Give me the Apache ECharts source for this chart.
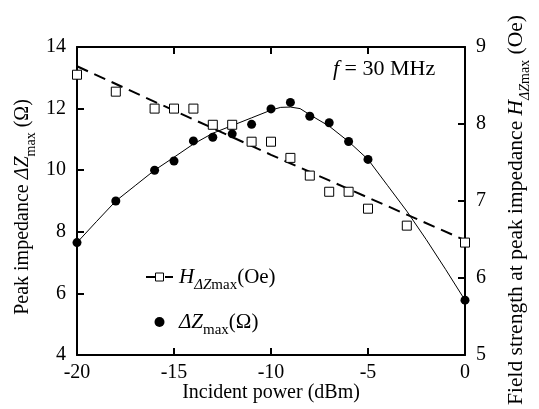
<!DOCTYPE html>
<html>
<head>
<meta charset="utf-8">
<script src="https://cdn.jsdelivr.net/npm/echarts@6/dist/echarts.min.js"></script>
<style>html,body{margin:0;padding:0;background:#fff;}#c{width:539px;height:409px;}</style>
</head>
<body>
<div id="c"></div>
<script>
// Measured peak impedance ΔZmax (Ω) vs incident power (dBm)
const zPower = [-20, -18, -16, -15, -14, -13, -12, -11, -10, -9, -8, -7, -6, -5, 0];
const zValues = [7.65, 9.0, 10.0, 10.3, 10.95, 11.07, 11.18, 11.49, 11.99, 12.2, 11.75, 11.54, 10.93, 10.35, 5.78];
// Fitted curve for ΔZmax
const zFitPower = [-20, -19, -18, -17, -16, -15, -14, -13, -12, -11, -10, -9.5, -9, -8.5, -8, -7, -6, -5, -4, -3, -2, -1, 0];
const zFitValues = [7.65, 8.33, 9.0, 9.5, 10.0, 10.42, 10.85, 11.2, 11.45, 11.7, 11.95, 12.04, 12.05, 12.0, 11.8, 11.43, 10.93, 10.35, 9.51, 8.67, 7.75, 6.78, 5.78];
// Measured field strength H at peak impedance (Oe)
const hPower = [-20, -18, -16, -15, -14, -13, -12, -11, -10, -9, -8, -7, -6, -5, -3, 0];
const hValues = [8.64, 8.42, 8.2, 8.2, 8.2, 7.99, 7.99, 7.77, 7.77, 7.56, 7.33, 7.12, 7.12, 6.9, 6.68, 6.46];
// Fitted line for H
const hFitPower = [-20, -10, 0];
const hFitValues = [8.75, 7.6, 6.49];
// Axis ticks
const xTicks = [-20, -15, -10, -5, 0];
const yLeftTicks = [4, 6, 8, 10, 12, 14];
const yRightTicks = [5, 6, 7, 8, 9];

const FONT = 'Liberation Serif';
const zip = (a, b) => a.map((v, i) => [v, b[i]]);
function makeRich(main, sub, pad) {
  return {
    i: {fontFamily: FONT, fontSize: main, fontStyle: 'italic', lineHeight: main, color: '#000'},
    n: {fontFamily: FONT, fontSize: main, lineHeight: main, color: '#000'},
    sub: {fontFamily: FONT, fontSize: sub, lineHeight: sub, padding: [pad, 0, 0, 0], color: '#000'},
    subi: {fontFamily: FONT, fontSize: sub, fontStyle: 'italic', lineHeight: sub, padding: [pad, 0, 0, 0], color: '#000'}
  };
}
const axisLine = {show: true, onZero: false, lineStyle: {color: '#000', width: 2}};
const tick = {show: true, inside: true, length: 7, lineStyle: {color: '#000', width: 2}};
const lbl = {fontFamily: FONT, fontSize: 20, color: '#000'};

const chart = echarts.init(document.getElementById('c'), null, {renderer: 'canvas'});
chart.setOption({
  animation: false,
  backgroundColor: '#fff',
  grid: {left: 77, right: 74, top: 47, bottom: 54, containLabel: false, outerBoundsMode: 'none'},
  legend: {
    orient: 'vertical', left: 145, top: 261, padding: 0, itemWidth: 27, itemHeight: 10, itemGap: 13,
    selectedMode: false,
    data: [
      {name: 'H', itemStyle: {color: '#fff', borderColor: '#000', borderWidth: 1, opacity: 1}},
      {name: 'ΔZ', itemStyle: {color: '#000', opacity: 1}}
    ],
    formatter: n => n === 'H' ? '{i|H}{subi|ΔZ}{sub|max}{n|(Oe)}' : '{i|ΔZ}{sub|max}{n|(Ω)}',
    textStyle: {fontFamily: FONT, fontSize: 21, color: '#000', padding: [0, 0, 0, 1], rich: makeRich(21, 15, 17)}
  },
  graphic: [{
    type: 'text', left: 333, top: 58,
    style: {text: '{i|f} = 30 MHz', fontFamily: FONT, fontSize: 22, fill: '#000', rich: {i: {fontFamily: FONT, fontSize: 22, fontStyle: 'italic'}}}
  }],
  xAxis: [{
    type: 'value', position: 'bottom', min: xTicks[0], max: xTicks[xTicks.length - 1], interval: 5,
    name: 'Incident power (dBm)', nameLocation: 'middle', nameGap: 28, nameMoveOverlap: false,
    nameTextStyle: {fontFamily: FONT, fontSize: 20, color: '#000'},
    axisLine: axisLine, axisTick: tick, splitLine: {show: false},
    axisLabel: Object.assign({margin: 8, formatter: v => String(v)}, lbl)
  }, {
    type: 'value', position: 'top', min: xTicks[0], max: xTicks[xTicks.length - 1], interval: 5,
    axisLine: axisLine, axisTick: tick, splitLine: {show: false}, axisLabel: {show: false}
  }],
  yAxis: [{
    type: 'value', position: 'left', min: yLeftTicks[0], max: yLeftTicks[yLeftTicks.length - 1], interval: 2,
    name: 'Peak impedance {i|ΔZ}{sub|max} (Ω)', nameLocation: 'middle', nameGap: 44, nameRotate: 90, nameMoveOverlap: false,
    nameTextStyle: {fontFamily: FONT, fontSize: 20, lineHeight: 20, color: '#000', padding: [0, 12, 0, 0], rich: makeRich(20, 14, 17)},
    axisLine: axisLine, axisTick: tick, splitLine: {show: false},
    axisLabel: Object.assign({margin: 11}, lbl)
  }, {
    type: 'value', position: 'right', min: yRightTicks[0], max: yRightTicks[yRightTicks.length - 1], interval: 1,
    name: 'Field strength at peak impedance {i|H}{subi|ΔZ}{sub|max} (Oe)', nameLocation: 'middle', nameGap: 41, nameRotate: 90, nameMoveOverlap: false,
    nameTextStyle: {fontFamily: FONT, fontSize: 21.5, lineHeight: 21.5, color: '#000', padding: [0, 18, 0, 0], rich: makeRich(21.5, 14, 17)},
    axisLine: axisLine, axisTick: tick, splitLine: {show: false},
    axisLabel: Object.assign({margin: 11}, lbl)
  }],
  series: [{
    name: 'ΔZ fit', type: 'line', xAxisIndex: 0, yAxisIndex: 0, data: zip(zFitPower, zFitValues),
    symbol: 'none', lineStyle: {color: '#000', width: 1}, z: 2, silent: true
  }, {
    name: 'H', type: 'line', xAxisIndex: 0, yAxisIndex: 1, data: zip(hFitPower, hFitValues),
    symbol: 'rect', showSymbol: false, symbolSize: 8,
    itemStyle: {color: '#fff', borderColor: '#000', borderWidth: 1},
    lineStyle: {color: '#000', width: 2, type: [12, 7]}, z: 2, silent: true
  }, {
    name: 'H data', type: 'scatter', xAxisIndex: 0, yAxisIndex: 1, data: zip(hPower, hValues),
    symbol: 'rect', symbolSize: 9, itemStyle: {color: '#fff', borderColor: '#000', borderWidth: 1, opacity: 1}, z: 3
  }, {
    name: 'ΔZ', type: 'scatter', xAxisIndex: 0, yAxisIndex: 0, data: zip(zPower, zValues),
    symbol: 'circle', symbolSize: 9, itemStyle: {color: '#000', opacity: 1}, z: 4
  }]
});
</script>
</body>
</html>
